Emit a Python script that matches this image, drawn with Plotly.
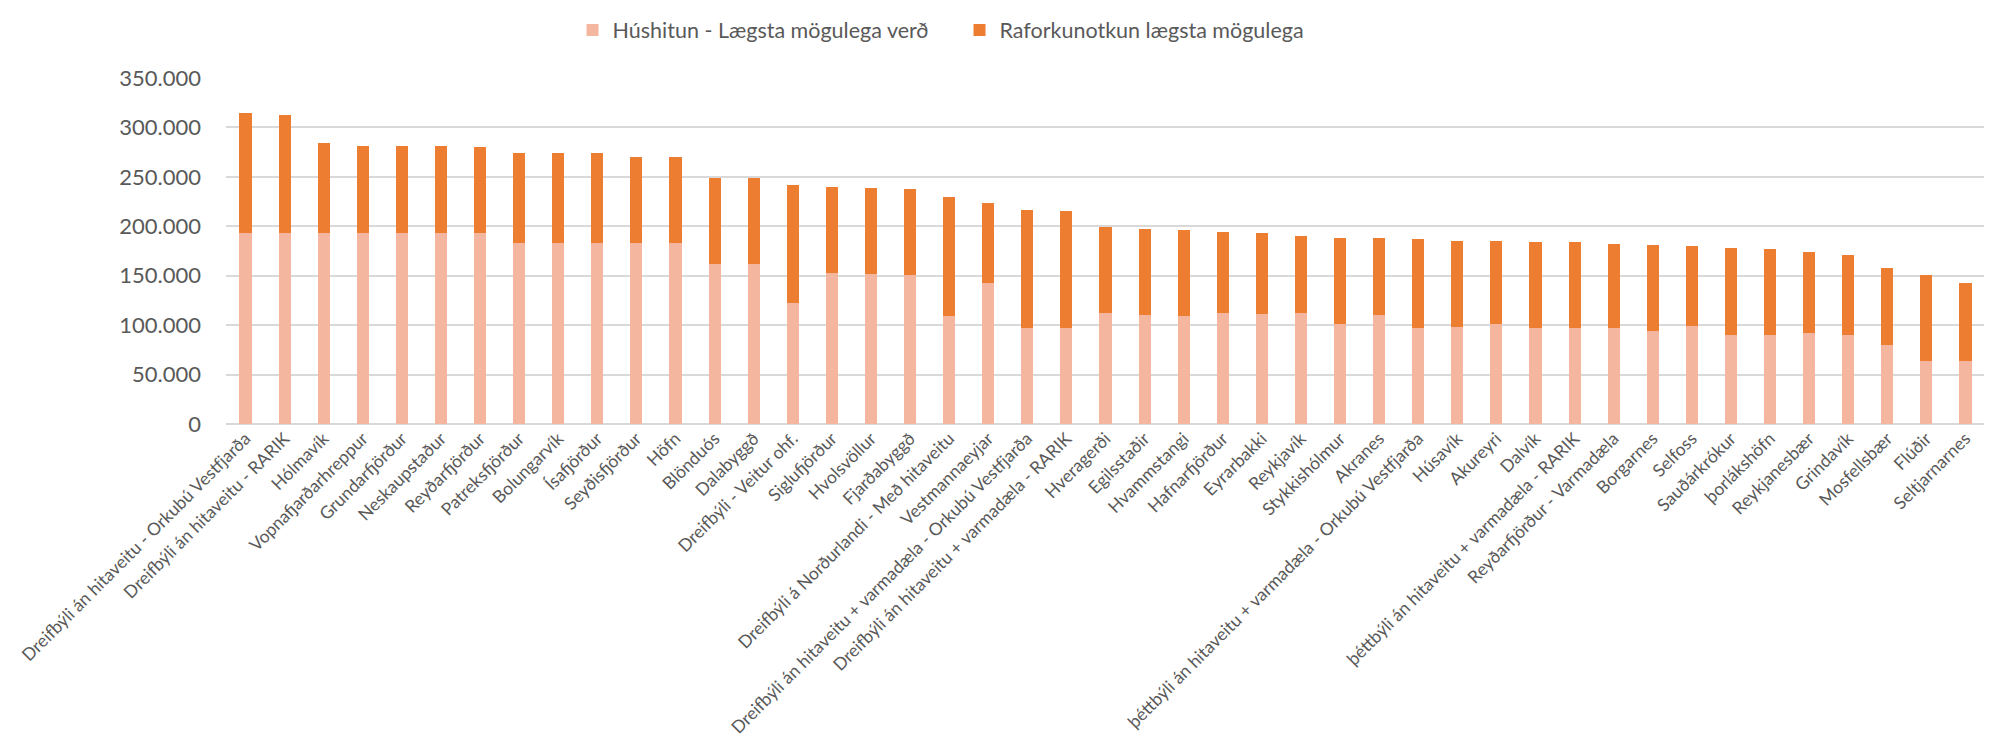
import plotly.graph_objects as go

categories = [
    "Dreifbýli án hitaveitu - Orkubú Vestfjarða",
    "Dreifbýli án hitaveitu - RARIK",
    "Hólmavík",
    "Vopnafjarðarhreppur",
    "Grundarfjörður",
    "Neskaupstaður",
    "Reyðarfjörður",
    "Patreksfjörður",
    "Bolungarvík",
    "Ísafjörður",
    "Seyðisfjörður",
    "Höfn",
    "Blönduós",
    "Dalabyggð",
    "Dreifbýli - Veitur ohf.",
    "Siglufjörður",
    "Hvolsvöllur",
    "Fjarðabyggð",
    "Dreifbýli á Norðurlandi - Með hitaveitu",
    "Vestmannaeyjar",
    "Dreifbýli án hitaveitu + varmadæla - Orkubú Vestfjarða",
    "Dreifbýli án hitaveitu + varmadæla - RARIK",
    "Hveragerði",
    "Egilsstaðir",
    "Hvammstangi",
    "Hafnarfjörður",
    "Eyrarbakki",
    "Reykjavík",
    "Stykkishólmur",
    "Akranes",
    "þéttbýli án hitaveitu + varmadæla - Orkubú Vestfjarða",
    "Húsavík",
    "Akureyri",
    "Dalvík",
    "þéttbýli án hitaveitu + varmadæla - RARIK",
    "Reyðarfjörður - Varmadæla",
    "Borgarnes",
    "Selfoss",
    "Sauðárkrókur",
    "þorlákshöfn",
    "Reykjanesbær",
    "Grindavík",
    "Mosfellsbær",
    "Flúðir",
    "Seltjarnarnes",
]

# Húshitun - Lægsta mögulega verð
heating = [
    193000, 193000, 193000, 193000, 193000, 193000, 193000, 182700, 182700, 182700,
    182700, 182700, 161800, 161800, 122000, 152700, 151700, 150700, 109200, 142600,
    96800, 96800, 112600, 110300, 109200, 112600, 111600, 112600, 101100, 110300,
    96800, 98100, 101100, 96800, 96800, 96800, 94400, 99100, 90000, 90000,
    92000, 90000, 79600, 63400, 63400,
]

# Totals (top of stacked bar)
totals = [
    314300, 312900, 284700, 281300, 281300, 281300, 279900, 274200, 274200, 274200,
    269600, 269600, 248800, 248800, 242100, 239700, 238700, 237400, 229600, 223900,
    216800, 215800, 199600, 197200, 196200, 193900, 192900, 190500, 188100, 188100,
    186800, 184800, 184800, 183700, 183700, 182400, 181400, 180000, 177700, 176700,
    173600, 170900, 157400, 150400, 142300,
]

# Raforkunotkun lægsta mögulega
electricity = [t - h for t, h in zip(totals, heating)]

y_ticks = [0, 50000, 100000, 150000, 200000, 250000, 300000, 350000]

LIGHT = "#F4B69F"
DARK = "#ED7D31"
TXT = "#595959"
FONT = "Lato"

fig = go.Figure()
fig.add_bar(x=categories, y=heating, name="Húshitun - Lægsta mögulega verð",
            marker=dict(color=LIGHT, line=dict(width=0)))
fig.add_bar(x=categories, y=electricity, name="Raforkunotkun lægsta mögulega",
            marker=dict(color=DARK, line=dict(width=0)))

fig.update_layout(
    barmode="stack",
    bargap=0.69,
    width=1992,
    height=737,
    margin=dict(l=218, r=15, t=70, b=321, autoexpand=False),
    paper_bgcolor="white",
    plot_bgcolor="white",
    separators=",.",
    font=dict(family=FONT, color=TXT),
    legend=dict(
        orientation="h",
        x=0.197, xanchor="left",
        y=1.139, yanchor="middle",
        font=dict(size=21.5, color=TXT, family=FONT),
        traceorder="normal",
        itemwidth=30,
        entrywidth=342,
    ),
    xaxis=dict(
        tickangle=-45,
        tickfont=dict(size=17.5, color=TXT, family=FONT),
        showgrid=False,
        showline=False,
        ticks="",
        automargin=False,
    ),
    yaxis=dict(
        range=[0, 350000],
        tickvals=y_ticks,
        tickformat=",d",
        tickfont=dict(size=22, color=TXT, family=FONT),
        showgrid=True,
        gridcolor="#D9D9D9",
        gridwidth=1.5,
        zeroline=True,
        zerolinecolor="#D9D9D9",
        zerolinewidth=1.5,
        ticks="",
        ticklabelstandoff=24,
        automargin=False,
    ),
)

fig.write_html("out.html")
